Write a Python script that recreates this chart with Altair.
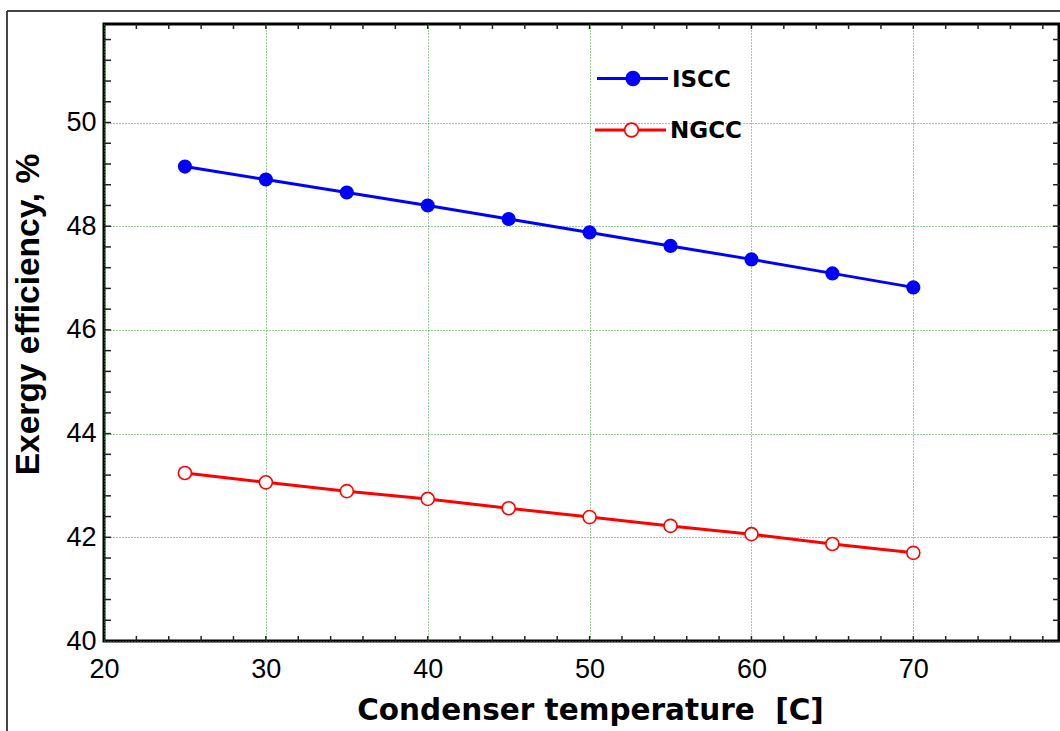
import altair as alt
import numpy as np
import pandas as pd

# Condenser temperature (C) and exergy efficiency (%) of the two plant layouts
temps = [25, 30, 35, 40, 45, 50, 55, 60, 65, 70]
iscc = [49.15, 48.90, 48.65, 48.40, 48.14, 47.88, 47.62, 47.36, 47.09, 46.82]
ngcc = [43.24, 43.06, 42.89, 42.74, 42.56, 42.39, 42.22, 42.06, 41.87, 41.70]

x_labels = [20, 30, 40, 50, 60, 70]
y_labels = [40, 42, 44, 46, 48, 50]
x_minor = [round(v, 1) for v in np.arange(22, 79, 2)]
y_minor = [round(v, 1) for v in np.arange(40.4, 51.7, 0.4)]

FONT = "Liberation Sans"
WIDE = "DejaVu Sans"
W, H = 955, 617
BLUE, RED = "#0000ff", "#ff0000"

iscc_df = pd.DataFrame({"t": temps, "eff": iscc})
ngcc_df = pd.DataFrame({"t": temps, "eff": ngcc})
xt = pd.DataFrame({"t": x_minor})
yt = pd.DataFrame({"eff": y_minor})
one = alt.Data(values=[{}])

xscale = alt.Scale(domain=[20, 79], nice=False, zero=False)
yscale = alt.Scale(domain=[40, 51.9], nice=False, zero=False)

x_axis = alt.Axis(
    values=x_labels, grid=True, gridColor="#2e9e2e", gridDash=[1, 2], gridWidth=1,
    domain=False, ticks=False, tickSize=0, labelFontSize=27, labelFont=FONT,
    labelColor="black", labelPadding=36, labelBaseline="alphabetic", labelFlush=False,
    title="Condenser temperature\u00a0 [C]", titleFont=WIDE, titleFontSize=29.5,
    titleFontWeight="bold", titleColor="black", titleX=486, titleY=78,
    titleAlign="center", titleBaseline="alphabetic",
)
y_axis = alt.Axis(
    values=y_labels, grid=True, gridColor="#2e9e2e", gridDash=[1, 2], gridWidth=1,
    domain=False, ticks=False, tickSize=0, labelFontSize=27, labelFont=FONT,
    labelColor="black", labelPadding=8, labelBaseline="middle", labelFlush=False,
    title="Exergy efficiency, %", titleFont=FONT, titleFontSize=33.5,
    titleFontWeight="bold", titleColor="black", titleX=-66, titleY=290,
    titleAngle=-90, titleAlign="center", titleBaseline="alphabetic",
)

X = alt.X("t:Q", scale=xscale, axis=x_axis)
Y = alt.Y("eff:Q", scale=yscale, axis=y_axis)

# series lines and markers
iscc_line = alt.Chart(iscc_df).mark_line(color=BLUE, strokeWidth=3).encode(x=X, y=Y)
iscc_pts = alt.Chart(iscc_df).mark_point(
    shape="circle", filled=True, color=BLUE, size=200, opacity=1
).encode(x=X, y=Y)

ngcc_line = alt.Chart(ngcc_df).mark_line(color=RED, strokeWidth=3).encode(x=X, y=Y)
ngcc_pts = alt.Chart(ngcc_df).mark_point(
    shape="circle", filled=True, fill="white", stroke=RED, strokeWidth=1.6,
    size=170, opacity=1
).encode(x=X, y=Y)

# inward minor ticks on all four sides
tick_style = dict(color="#222222", strokeWidth=1.5)
xt_bottom = alt.Chart(xt).mark_rule(**tick_style).encode(
    x=X, y=alt.value(H), y2=alt.value(H - 5))
xt_top = alt.Chart(xt).mark_rule(**tick_style).encode(
    x=X, y=alt.value(0), y2=alt.value(5))
yt_left = alt.Chart(yt).mark_rule(**tick_style).encode(
    y=Y, x=alt.value(0), x2=alt.value(7))
yt_right = alt.Chart(yt).mark_rule(**tick_style).encode(
    y=Y, x=alt.value(W), x2=alt.value(W - 6))

# outer frame around the figure
frame_left = alt.Chart(one).mark_rule(color="#444444", strokeWidth=2).encode(
    x=alt.value(-97), y=alt.value(-13), y2=alt.value(H + 100))
frame_top = alt.Chart(one).mark_rule(color="#444444", strokeWidth=2).encode(
    x=alt.value(-97), x2=alt.value(W + 10), y=alt.value(-13))

# legend drawn inside the plot
def legend_entry(label, color, fill, ly, x0, x1, xm, xtxt):
    line = alt.Chart(one).mark_rule(color=color, strokeWidth=3).encode(
        x=alt.value(x0), x2=alt.value(x1), y=alt.value(ly))
    pt = alt.Chart(one).mark_point(
        shape="circle", filled=True, fill=fill, stroke=color,
        strokeWidth=1.6, size=190, opacity=1
    ).encode(x=alt.value(xm), y=alt.value(ly))
    txt = alt.Chart(one).mark_text(
        text=label, font=WIDE, fontSize=23, fontWeight="bold", color="black",
        align="left", baseline="middle"
    ).encode(x=alt.value(xtxt), y=alt.value(ly + 1))
    return [line, pt, txt]

legend = legend_entry("ISCC", BLUE, BLUE, 54.5, 493, 564, 529, 568) + \
    legend_entry("NGCC", RED, "white", 106, 491, 562, 527.5, 566)

chart = alt.layer(
    iscc_line, ngcc_line, iscc_pts, ngcc_pts,
    xt_bottom, xt_top, yt_left, yt_right,
    frame_left, frame_top, *legend,
).properties(
    width=W, height=H,
    autosize=alt.AutoSizeParams(type="none"),
    padding={"left": 104, "top": 24, "right": 1, "bottom": 90},
    background="white",
).configure_view(stroke="black", strokeWidth=3)

chart.save("out.html", embed_options={"renderer": "svg", "actions": False})
